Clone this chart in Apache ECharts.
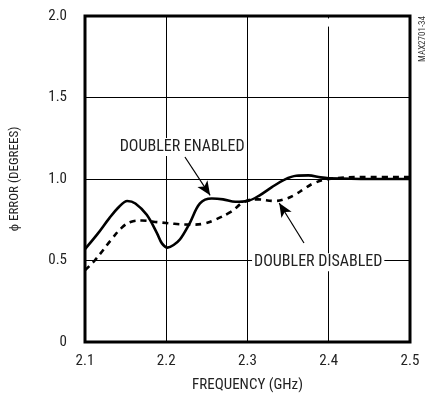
<!DOCTYPE html>
<html><head><meta charset="utf-8">
<script src="https://cdn.jsdelivr.net/npm/echarts@6/dist/echarts.min.js"></script>
<style>html,body{margin:0;padding:0;background:#fff}#c{width:428px;height:403px}</style>
</head><body><div id="c"></div>
<script>
const xTicks = [2.1, 2.2, 2.3, 2.4, 2.5];
const yTicks = [0, 0.5, 1.0, 1.5, 2.0];
const enabledFreq = [2.1,2.115,2.13,2.142,2.152,2.162,2.176,2.1887,2.1947,2.2016,2.209,2.217,2.229,2.2415,2.256,2.27,2.285,2.3,2.315,2.33,2.345,2.36,2.375,2.39,2.4,2.45,2.5];
const enabledErr  = [0.57,0.66,0.76,0.83,0.865,0.85,0.78,0.667,0.605,0.579,0.595,0.63,0.73,0.85,0.88,0.875,0.86,0.865,0.9,0.95,0.995,1.02,1.022,1.01,1.005,1.0,1.0];
const disabledFreq = [2.1,2.112,2.132,2.145,2.156,2.17,2.19,2.21,2.23,2.245,2.26,2.28,2.296,2.313,2.333,2.345,2.357,2.37,2.382,2.4,2.45,2.5];
const disabledErr  = [0.44,0.5,0.626,0.70,0.736,0.745,0.735,0.725,0.72,0.725,0.75,0.80,0.86,0.875,0.865,0.875,0.90,0.94,0.975,1.0,1.012,1.012];
const annotations = [
  {text: 'DOUBLER ENABLED', at: [2.2195, 1.196], from: [2.223, 1.135], to: [2.254, 0.90]},
  {text: 'DOUBLER DISABLED', at: [2.387, 0.49], from: [2.3695, 0.607], to: [2.339, 0.853]}
];
const FONT = '"Liberation Sans Narrow","Arial Narrow","Roboto Condensed","Liberation Sans",sans-serif';
const zip = (a, b) => a.map((v, i) => [v, b[i]]);
const chart = echarts.init(document.getElementById('c'));
chart.setOption({
  animation: false,
  grid: {left: 82, right: 18, top: 16, bottom: 61, show: true, borderColor: '#000', borderWidth: 3, backgroundColor: 'transparent'},
  xAxis: {
    type: 'value', min: 2.1, max: 2.5, interval: 0.1,
    name: 'FREQUENCY (GHz)', nameLocation: 'middle', nameGap: 36,
    nameTextStyle: {fontFamily: FONT, fontSize: 15, color: '#222'},
    axisLine: {show: false}, axisTick: {show: false},
    axisLabel: {fontFamily: FONT, fontSize: 15, color: '#222', margin: 12, formatter: v => v.toFixed(1)},
    splitLine: {show: true, lineStyle: {color: '#000', width: 1}}
  },
  yAxis: {
    type: 'value', min: 0, max: 2, interval: 0.5,
    name: 'ϕ ERROR (DEGREES)', nameLocation: 'middle', nameGap: 64,
    nameTextStyle: {fontFamily: FONT, fontSize: 13, color: '#222'},
    axisLine: {show: false}, axisTick: {show: false},
    axisLabel: {fontFamily: FONT, fontSize: 15, color: '#222', margin: 18, formatter: v => v === 0 ? '0' : v.toFixed(1)},
    splitLine: {show: true, lineStyle: {color: '#000', width: 1}}
  },
  series: [
    {
      name: 'DOUBLER DISABLED', type: 'line', data: zip(disabledFreq, disabledErr), smooth: 0.4,
      showSymbol: false, lineStyle: {color: '#000', width: 2.6, type: [6, 5]}, z: 3, clip: false,
      markLine: {
        silent: true, symbol: 'none', label: {show: false},
        data: [
          [{coord: [2.4, 0], lineStyle: {color: '#000', width: 1, type: 'solid'}}, {coord: [2.4, -0.08]}],
          [{coord: [2.4, 1.985], lineStyle: {color: '#fff', width: 3, type: 'solid'}}, {coord: [2.4, 1.935]}]
        ]
      }
    },
    {
      name: 'DOUBLER ENABLED', type: 'line', data: zip(enabledFreq, enabledErr), smooth: 0.35,
      showSymbol: false, lineStyle: {color: '#000', width: 2.6}, z: 4,
      markLine: {
        silent: true, symbol: ['none', 'arrow'], symbolSize: [9, 14],
        lineStyle: {color: '#000', width: 1.2, type: 'solid'}, label: {show: false},
        data: annotations.map(a => [{coord: a.from}, {coord: a.to}])
      },
      markPoint: {
        silent: true, symbolSize: 0,
        data: annotations.map(a => ({coord: a.at, value: a.text})),
        label: {show: true, position: 'inside', formatter: p => p.value, fontFamily: FONT, fontSize: 16, color: '#222',
          backgroundColor: '#fff', padding: [1, 2]}
      }
    }
  ],
  graphic: [{
    type: 'text', right: 1, top: 16, rotation: Math.PI / 2,
    style: {text: 'MAX2701-34', font: '9px ' + FONT, fill: '#333'}
  }]
});
</script></body></html>
